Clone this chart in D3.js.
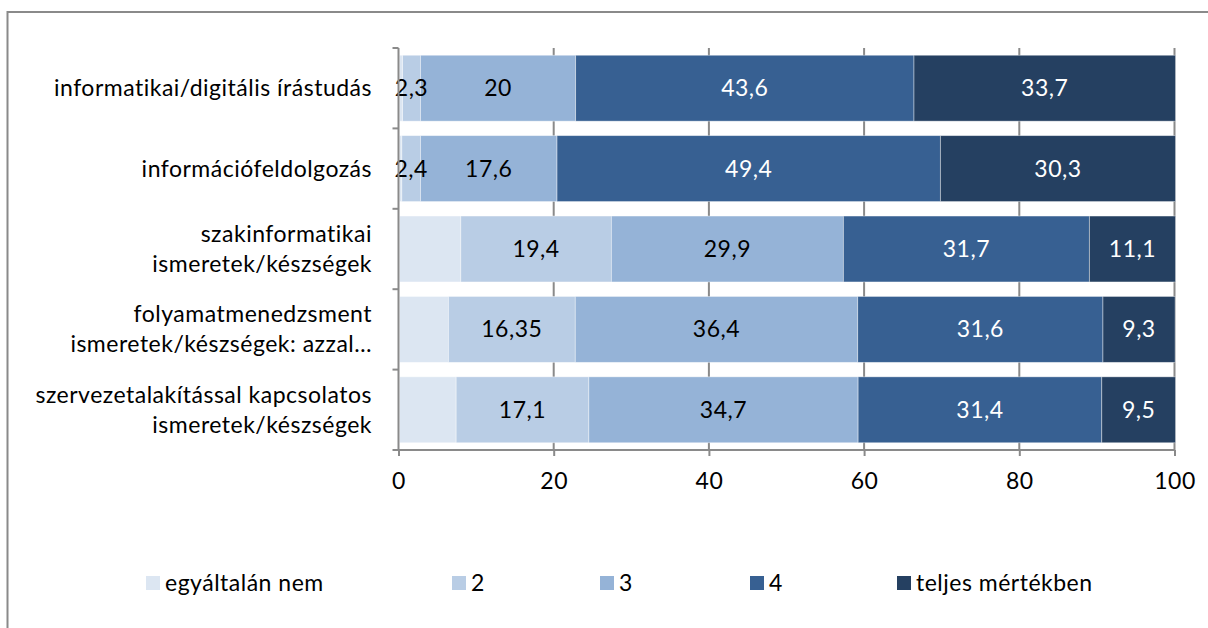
<!DOCTYPE html>
<html>
<head>
<meta charset="utf-8">
<script src="https://cdn.jsdelivr.net/npm/d3@7"></script>
<style>
  html, body { margin: 0; padding: 0; background: #fff; }
  svg { display: block; }
  text { font-family: Lato, "Open Sans", sans-serif; font-variant-ligatures: none; letter-spacing: 0.5px; }
</style>
</head>
<body>
<svg id="chart" width="1208" height="628"></svg>
<script>
// Category labels (one array entry per line of text)
const categories = [
  ["informatikai/digitális írástudás"],
  ["információfeldolgozás"],
  ["szakinformatikai", "ismeretek/készségek"],
  ["folyamatmenedzsment", "ismeretek/készségek: azzal…"],
  ["szervezetalakítással kapcsolatos", "ismeretek/készségek"]
];
const seriesNames = ["egyáltalán nem", "2", "3", "4", "teljes mértékben"];

// Percentages per answer level, one value per category
const level1 = [0.4, 0.3, 7.9, 6.3, 7.3];
const level2 = [2.3, 2.4, 19.4, 16.35, 17.1];
const level3 = [20, 17.6, 29.9, 36.4, 34.7];
const level4 = [43.6, 49.4, 31.7, 31.6, 31.4];
const level5 = [33.7, 30.3, 11.1, 9.3, 9.5];
// Which segments carry a printed value
const showLabel = [false, true, true, true, true];
const xTicks = [0, 20, 40, 60, 80, 100];

const colors = ["#dce6f2", "#b9cde5", "#95b3d7", "#376092", "#254061"];
const labelColors = ["#000", "#000", "#000", "#fff", "#fff"];
const fontSize = 23;

const levels = [level1, level2, level3, level4, level5];
const rows = categories.map((c, i) => {
  const r = { idx: i };
  seriesNames.forEach((s, k) => r[s] = levels[k][i]);
  return r;
});
const stacked = d3.stack().keys(seriesNames)(rows);

const svg = d3.select("#chart");
const fmt = v => String(v).replace(".", ",");

// Outer frame
svg.append("rect")
  .attr("x", 7.5).attr("y", 12).attr("width", 1220).attr("height", 640)
  .attr("fill", "none").attr("stroke", "#8a8a8a").attr("stroke-width", 2);

const plotLeft = 398.5, plotRight = 1174.5, plotTop = 48, plotBottom = 450;
const x = d3.scaleLinear().domain([0, 100]).range([plotLeft, plotRight]);
const y = d3.scaleBand().domain(d3.range(categories.length)).range([plotTop, plotBottom]).paddingInner(0.18).paddingOuter(0.09);

// Vertical gridlines
svg.append("g").selectAll("line")
  .data(xTicks.slice(1))
  .join("line")
  .attr("x1", d => x(d)).attr("x2", d => x(d))
  .attr("y1", plotTop).attr("y2", plotBottom)
  .attr("stroke", "#8a8a8a").attr("stroke-width", 2);

// Stacked bars
const layer = svg.append("g").selectAll("g")
  .data(stacked)
  .join("g")
  .attr("fill", (d, k) => colors[k]);

layer.selectAll("rect")
  .data(d => d)
  .join("rect")
  .attr("x", d => x(d[0]) + 1)
  .attr("width", d => Math.max(0, x(d[1]) - x(d[0])))
  .attr("y", d => y(d.data.idx))
  .attr("height", y.bandwidth())
  .attr("stroke", "#ffffff").attr("stroke-opacity", 0.5).attr("stroke-width", 0.8);

// Value labels
stacked.forEach((s, k) => {
  if (!showLabel[k]) return;
  svg.append("g").selectAll("text")
    .data(s)
    .join("text")
    .attr("x", d => (x(d[0]) + x(d[1])) / 2 + 1)
    .attr("y", d => y(d.data.idx) + y.bandwidth() / 2)
    .attr("dy", "0.35em")
    .attr("text-anchor", "middle")
    .attr("font-size", fontSize)
    .attr("fill", labelColors[k])
    .text(d => fmt(levels[k][d.data.idx]));
});

// X axis
const xAxis = svg.append("g")
  .attr("transform", `translate(0,${plotBottom})`)
  .call(d3.axisBottom(x).tickValues(xTicks).tickSize(6).tickPadding(17));
xAxis.selectAll("line").attr("stroke", "#8a8a8a").attr("stroke-width", 2);
xAxis.select(".domain").attr("stroke", "#8a8a8a").attr("stroke-width", 2)
  .attr("d", `M${plotLeft},0H${plotRight}`);
xAxis.selectAll("text").attr("font-size", fontSize).attr("fill", "#000")
  .attr("font-family", "Lato, sans-serif");

// Y axis line with ticks between categories
const yAxisG = svg.append("g");
yAxisG.append("line")
  .attr("x1", plotLeft).attr("x2", plotLeft).attr("y1", plotTop).attr("y2", plotBottom)
  .attr("stroke", "#8a8a8a").attr("stroke-width", 2);
const step = (plotBottom - plotTop) / categories.length;
yAxisG.selectAll("line.tick")
  .data(d3.range(categories.length + 1))
  .join("line")
  .attr("class", "tick")
  .attr("x1", plotLeft - 6).attr("x2", plotLeft)
  .attr("y1", i => plotTop + i * step).attr("y2", i => plotTop + i * step)
  .attr("stroke", "#8a8a8a").attr("stroke-width", 2);

// Category labels
const catG = svg.append("g");
categories.forEach((lines, i) => {
  const cy = y(i) + y.bandwidth() / 2;
  const lh = 30;
  const t = catG.append("text")
    .attr("text-anchor", "end")
    .attr("font-size", fontSize)
    .attr("fill", "#000");
  lines.forEach((ln, j) => {
    t.append("tspan")
      .attr("x", 372)
      .attr("y", cy + (j - (lines.length - 1) / 2) * lh)
      .attr("dy", "0.35em")
      .text(ln);
  });
});

// Legend
const legendX = [146, 452, 600, 750, 897];
const lg = svg.append("g").selectAll("g")
  .data(seriesNames)
  .join("g")
  .attr("transform", (d, k) => `translate(${legendX[k]},583)`);
lg.append("rect")
  .attr("x", 0).attr("y", -7).attr("width", 14).attr("height", 14)
  .attr("fill", (d, k) => colors[k]);
lg.append("text")
  .attr("x", 19).attr("dy", "0.35em")
  .attr("font-size", fontSize).attr("fill", "#000")
  .text(d => d);
</script>
</body>
</html>
